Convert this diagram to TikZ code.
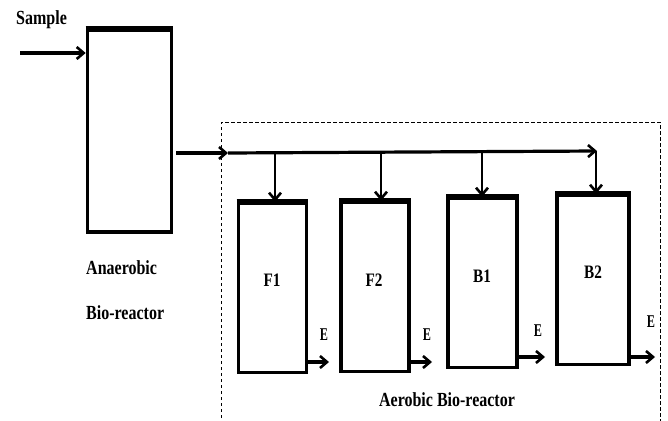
\documentclass[tikz,border=0pt]{standalone}
\usepackage{fontspec}
\setmainfont{Liberation Serif}
\newfontfamily\lblfont[FakeStretch=0.8]{Liberation Serif}
\newfontfamily\efont[FakeStretch=0.68]{Liberation Serif}
\usetikzlibrary{arrows.meta}
\begin{document}
\begin{tikzpicture}[x=1pt,y=-1pt,
  reactor/.style={draw,line width=3.6pt,inner sep=0pt,minimum width=70pt,minimum height=171pt},
  lbl/.style={inner sep=0pt,font=\lblfont\bfseries\fontsize{20}{22}\selectfont},
  boxlbl/.style={inner sep=0pt,font=\lblfont\bfseries\fontsize{19}{21}\selectfont},
  elbl/.style={inner sep=0pt,font=\efont\bfseries\fontsize{18}{20}\selectfont},
  arr/.style={-{Straight Barb[length=7pt,width=12pt,line width=2.6pt]}},
  thickln/.style={line width=3.2pt},
  thinln/.style={line width=2.4pt},
  dashbox/.style={line width=0.8pt,dash pattern=on 3.5pt off 2.5pt}
]
\useasboundingbox (0,0) rectangle (668,420);
% dashed aerobic region
\coordinate (d1) at (221,430);
\coordinate (d2) at (221,122);
\coordinate (d3) at (660,122);
\coordinate (d4) at (660,430);
\draw[dashbox] (d1) -- (d2) -- (d3) -- (d4);
% anaerobic reactor
\node[reactor,minimum width=84pt,minimum height=202pt] (ana) at (129.5,131) {};
\draw[line width=5pt] (ana.north west) -- (ana.north east);
% sample input
\node[lbl,anchor=west] (sample) at (16,20) {Sample};
\coordinate (s0) at (20,53);
\draw[thickln,arr] (s0) -- (ana.west |- s0);
% labels of anaerobic
\node[lbl,anchor=west] (anal1) at (86,268) {Anaerobic};
\node[lbl,anchor=west] (anal2) at (86,313) {Bio-reactor};
% aerobic reactors
\node[reactor,minimum width=68pt,minimum height=169pt] (F1) at (272.5,288) {};
\node[reactor,minimum width=68pt,minimum height=169pt] (F2) at (375,287) {};
\node[reactor,minimum width=69pt,minimum height=169pt] (B1) at (482.5,283) {};
\node[reactor,minimum width=72pt,minimum height=169pt] (B2) at (593,280) {};
\foreach \b in {F1,F2,B1,B2}{
  \draw[line width=5.5pt] (\b.north west) -- (\b.north east);
}
\node[boxlbl] (lF1) at (272,280) {F1};
\node[boxlbl] (lF2) at (374,280) {F2};
\node[boxlbl] (lB1) at (482,276) {B1};
\node[boxlbl] (lB2) at (593,272) {B2};
% main feed line
\coordinate (m0) at (176,153);
\coordinate (m1) at (228,153);
\coordinate (m2) at (597,151);
\draw[thickln,arr] (m0) -- (m1);
\draw[thickln,arr] (m1) -- (m2);
% drops
\coordinate (p1) at (275,153);
\coordinate (p2) at (381,152.5);
\coordinate (p3) at (482,152);
\coordinate (p4) at (596,151);
\draw[thinln,arr] (p1) -- (p1 |- F1.north);
\draw[thinln,arr] (p2) -- (p2 |- F2.north);
\draw[thinln,arr] (p3) -- (p3 |- B1.north);
\draw[thinln,arr] (p4) -- (p4 |- B2.north);
% effluents
\coordinate (e1) at (329,362);
\coordinate (e2) at (432,362);
\coordinate (e3) at (545,357);
\coordinate (e4) at (655,357);
\draw[thickln,arr] (F1.east |- e1) -- (e1);
\draw[thickln,arr] (F2.east |- e2) -- (e2);
\draw[thickln,arr] (B1.east |- e3) -- (e3);
\draw[thickln,arr] (B2.east |- e4) -- (e4);
\node[elbl] (E1) at (324,335) {E};
\node[elbl] (E2) at (427,335) {E};
\node[elbl] (E3) at (538,331) {E};
\node[elbl] (E4) at (651,322) {E};
% aerobic label
\node[lbl] (aer) at (447,400) {Aerobic Bio-reactor};
\end{tikzpicture}
\end{document}
